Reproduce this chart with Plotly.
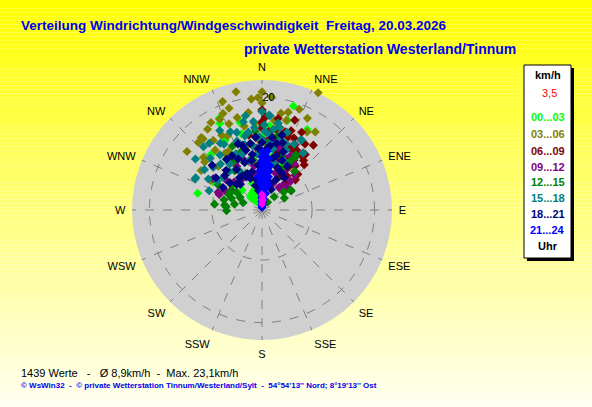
import plotly.graph_objects as go

# ---------------- data (direction deg, speed km/h) per time class ----------------
lime_dir = [16.8, 29.3, 334, 284.6, 335, 346, 332, 317, 16, 16.6,
            350, 355, 340, 5, 10, 20, 25, 345, 330, 0,
            330, 335, 325, 340, 320, 328, 335, 338, 322, 332, 318, 345,
            300, 310, 325, 345, 5, 12, 22, 340, 350, 0, 355, 10, 315, 305]
lime_spd = [19.3, 16.4, 17.1, 11.8, 18.0, 16.0, 14.0, 13.4, 16.6, 8.5,
            12, 10, 9, 11, 7, 12, 6, 7, 8, 13,
            3.5, 3.0, 2.5, 2.0, 3.2, 1.8, 1.5, 3.8, 2.2, 2.8, 2.8, 2.5,
            10, 7, 11, 14, 15, 10, 9, 5, 6, 4, 3, 3, 5, 6]

olive_dir = [347.6, 354.5, 338, 326, 308, 320, 303, 325, 25.6, 4.7, 20.3, 11.1, 15.2, 34.3,
             0, 26.3, 0, 329.7, 345, 339, 331.7, 320.4, 316.7,
             350, 355, 5, 340, 330, 10, 315, 345, 0, 8, 352, 335, 20, 357,
             335, 342, 348, 2, 15, 30, 12, 322, 312, 327, 337, 355, 5, 18, 340, 358, 0, 300, 310]
olive_spd = [21.5, 19.8, 18.5, 17.3, 16.9, 16.8, 12.9, 15.1, 23.1, 20.2, 19.1, 17.5, 16.5, 16.8,
             19, 18.2, 17.6, 18, 17, 16.4, 15.1, 16.4, 16.5,
             14, 15.5, 14, 13, 12, 13, 11, 11.5, 15, 16, 17.5, 14.5, 14, 12.5,
             17.8, 19, 15.2, 16.8, 18, 16, 15, 13.5, 14, 12, 10.5, 13, 11.5, 11, 20.5, 20, 21, 10.5, 13.3]

maroon_dir = [38.4, 37, 20.2, 0, 0, 16.8, 18.7, 30, 32.6, 41, 333.5, 16.4, 19.7, 29.5, 42,
              35.7, 0, 0, 25, 22, 12, 28, 45, 8, 35, 15, 5, 350, 345, 24, 40, 10, 3, 30,
              20, 14, 33, 27, 36, 43, 48, 22, 17, 27, 10, 5, 2, 32, 38, 25, 12]
maroon_spd = [14.7, 9.8, 15, 17.8, 15.4, 14.3, 8.1, 12.3, 10.5, 6.3, 10.1, 14.5, 13.8, 11.9, 6.4,
              9.8, 15.7, 14.5, 10, 12, 11, 8, 9, 13, 12, 9.5, 12.5, 13.5, 9, 14, 11.5, 16.5, 10, 7,
              17, 13, 14, 13, 7.5, 11, 8, 7, 10.5, 15.5, 14.5, 14, 16.5, 9, 12.5, 12, 9]

purple_dir = [35.8, 43.3, 37.3, 1, 292, 303, 302.7, 290, 38.4, 40.4, 350, 10, 20, 355,
              340, 25, 5, 330, 15, 45, 315, 0,
              30, 35, 28, 18, 8, 350, 340, 325, 310, 298, 48, 22, 3, 12, 355]
purple_spd = [12.5, 8.5, 5.0, 12.4, 8.4, 10.3, 6.5, 8.1, 5.1, 5.8, 8, 9, 7, 11,
              6, 10, 6, 9, 11.5, 7.2, 7, 9.5,
              8, 10, 11, 9.5, 7.5, 6.5, 9.5, 6.5, 8.5, 7.5, 6, 5, 10.5, 12.5, 13]

green_dir = [277, 268.9, 277.6, 55, 42.8, 35.5, 291, 291, 275, 32.3, 56.8, 31.5, 350, 340,
             10, 355, 320, 330, 5, 300, 20, 300, 15, 335,
             285, 295, 305, 282, 310, 325, 345, 2, 8, 25, 40, 50, 355, 335, 12, 30, 62, 300]
green_spd = [8.5, 6.3, 6.7, 6.2, 3.2, 1.7, 3.6, 5.8, 6.4, 11.1, 6.2, 11.5, 9, 11,
             8, 6, 6, 10, 12, 6.5, 10, 4.5, 5, 7,
             7, 6.5, 5.5, 5, 7, 8.5, 12, 10, 11.5, 8, 9, 5, 14, 12.5, 13.5, 10, 4.5, 9]

teal_dir = [294.8, 317.2, 307.4, 321.7, 354.7, 322.6, 311.2, 296, 354.4, 4.2, 10.6, 29, 35.8,
            4.9, 29.6, 1.6, 340, 345, 350, 335, 330, 325, 355, 0, 5, 10, 15, 345, 320, 338,
            358, 348, 310, 0, 8, 20,
            300, 305, 315, 328, 332, 342, 347, 352, 2, 7, 12, 18, 22, 26, 340, 330, 318, 303,
            290, 358, 3, 15, 25, 350]
teal_spd = [13.1, 15.3, 14.9, 15.1, 14.7, 12.3, 11.5, 13.1, 15.8, 16.9, 15.7, 14.2, 12.5,
            16.8, 14.3, 15.1, 13, 12, 14, 11, 13.5, 10, 10, 12.5, 13.5, 11, 13, 9, 9, 15,
            13, 16, 9, 17.5, 14.5, 12.5,
            11, 12.5, 13, 14, 16, 14.5, 13.5, 11.5, 14, 12, 15, 14.5, 11.5, 13, 10.5, 8, 11, 9.5,
            10, 8, 10, 8.5, 9.5, 17]

navy_dir = [312, 331, 312.8, 315.4, 12.4, 14.7, 0, 340, 345, 350, 355, 5, 10, 15, 20, 25,
            330, 335, 320, 350, 0, 5, 358, 3, 352, 345, 30, 340, 20, 8,
            300, 305, 318, 325, 335, 343, 348, 357, 2, 7, 12, 17, 22, 27, 35, 355, 338, 328,
            310, 0, 6, 15, 350, 340, 325, 18, 24, 345, 350]
navy_spd = [11.9, 11, 9.0, 6.4, 12.1, 13.8, 10.4, 9, 7, 10, 8, 9, 7, 10, 8, 6,
            7, 6.5, 6, 12, 12, 11, 6, 4.5, 4, 11, 9, 12.5, 11, 13,
            8, 10, 9.5, 11, 10, 12, 9, 11, 8, 11.5, 9.5, 12.5, 9.5, 7.5, 7, 13, 7, 8.5,
            7.5, 7, 5.5, 5, 5.5, 6, 7, 5, 4, 4.5, 3.5]

blue_dir = [0, 2, 3, 1, 2, 3, 1, 4, 2, 3, 1, 4, 2, 3, 5, 1, 3, 6, 8, 358, 357, 10, 12,
            6, 7, 357, 0, 5, 10, 8, 358,
            2, 4, 0, 5, 1, 4, 0, 6, 2, 4, 0, 7, 3, 1, 9, 11, 13, 354]
blue_spd = [0.5, 1, 1.5, 2, 2.5, 3, 3.5, 4, 4.5, 5, 5.5, 6, 6.5, 7, 7.5, 8, 8.5, 9, 4, 3, 5,
            5, 3, 2, 6, 7, 9.5, 10.5, 8, 2.8, 1.5,
            0.8, 1.2, 2.2, 3.2, 4.2, 5.2, 6.2, 6.8, 7.4, 8.2, 8.8, 9.2, 9.8, 10.3, 7, 6, 4.5, 6]

magenta_dir = [0, 2, 1, 3, 0, 4]
magenta_spd = [1, 1.5, 2, 2.5, 2.8, 1.8]

classes = [
    ("00...03", "#00FF00", lime_dir, lime_spd),
    ("03...06", "#808000", olive_dir, olive_spd),
    ("06...09", "#800000", maroon_dir, maroon_spd),
    ("09...12", "#800080", purple_dir, purple_spd),
    ("12...15", "#008000", green_dir, green_spd),
    ("15...18", "#008080", teal_dir, teal_spd),
    ("18...21", "#000080", navy_dir, navy_spd),
    ("21...24", "#0000FF", blue_dir, blue_spd),
]

compass = ["N", "NNE", "NE", "ENE", "E", "ESE", "SE", "SSE",
           "S", "SSW", "SW", "WSW", "W", "WNW", "NW", "NNW"]
compass_deg = [0, 22.5, 45, 67.5, 90, 112.5, 135, 157.5,
               180, 202.5, 225, 247.5, 270, 292.5, 315, 337.5]

mean_speed = 8.9
max_speed = 23.1
n_values = 1439
current_speed = "3,5"

W, H = 592, 407


def px(x):
    return x / W


def py(y):
    return 1 - y / H


fig = go.Figure()
for name, col, d, s in classes:
    fig.add_trace(go.Scatterpolar(
        r=s, theta=d, mode="markers", name=name, showlegend=False,
        marker=dict(symbol="diamond", size=7, color=col, line=dict(width=0)),
        hoverinfo="skip"))
fig.add_trace(go.Scatterpolar(
    r=magenta_spd, theta=magenta_dir, mode="markers", showlegend=False,
    marker=dict(symbol="diamond", size=6, color="#FF00FF", line=dict(width=0)),
    hoverinfo="skip"))

shapes = []
# background gradient (yellow -> pale)
nb = 100
for i in range(nb):
    t = i / (nb - 1)
    b = int(round(0 + 240 * t))
    shapes.append(dict(type="rect", xref="paper", yref="paper",
                       x0=0, x1=1, y0=1 - (i + 1) / nb, y1=1 - i / nb,
                       fillcolor=f"rgb(255,255,{b})", line=dict(width=0),
                       layer="below"))
# legend box with shadow
shapes.append(dict(type="rect", xref="paper", yref="paper",
                   x0=px(527), x1=px(574), y0=py(261), y1=py(68),
                   fillcolor="black", line=dict(width=0), layer="above"))
shapes.append(dict(type="rect", xref="paper", yref="paper",
                   x0=px(524), x1=px(571), y0=py(258), y1=py(65),
                   fillcolor="white", line=dict(color="black", width=1), layer="above"))

ann = []
ann.append(dict(text="<b>Verteilung Windrichtung/Windgeschwindigkeit  Freitag, 20.03.2026</b>",
                x=px(19), y=py(25), xanchor="left", yanchor="middle",
                font=dict(family="Liberation Sans, Arial, sans-serif",
                          size=13.5, color="#0000EE")))
ann.append(dict(text="<b>private Wetterstation Westerland/Tinnum</b>",
                x=px(242), y=py(49), xanchor="left", yanchor="middle",
                font=dict(family="Liberation Sans, Arial, sans-serif",
                          size=14, color="#0000EE")))
ann.append(dict(text=f"{n_values} Werte   -   Ø {str(mean_speed).replace('.', ',')}km/h  -  Max. {str(max_speed).replace('.', ',')}km/h",
                x=px(19), y=py(373), xanchor="left", yanchor="middle",
                font=dict(family="Liberation Sans, Arial, sans-serif",
                          size=11, color="black")))
ann.append(dict(text="<b>© WsWin32  -  © private Wetterstation Tinnum/Westerland/Sylt  -  54°54'13'' Nord; 8°19'13'' Ost</b>",
                x=px(19), y=py(385), xanchor="left", yanchor="middle",
                font=dict(family="Liberation Sans, Arial, sans-serif",
                          size=8, color="#0000EE")))
# legend texts
leg_font = "Liberation Sans, Arial, sans-serif"
ann.append(dict(text="<b>km/h</b>", x=px(547.5), y=py(75), xanchor="center", yanchor="middle",
                font=dict(family=leg_font, size=11, color="black")))
ann.append(dict(text=current_speed, x=px(549), y=py(93), xanchor="center", yanchor="middle",
                font=dict(family=leg_font, size=11, color="#FF0000")))
leg_y = [117, 134, 151, 167, 182, 198, 214, 230]
for (name, col, d, s), yy in zip(classes, leg_y):
    ann.append(dict(text=f"<b>{name}</b>", x=px(547.5), y=py(yy), xanchor="center",
                    yanchor="middle", font=dict(family=leg_font, size=11, color=col)))
ann.append(dict(text="<b>Uhr</b>", x=px(547.5), y=py(246), xanchor="center", yanchor="middle",
                font=dict(family=leg_font, size=11, color="black")))
for a in ann:
    a.update(xref="paper", yref="paper", showarrow=False)

cx, cy, R = 262, 210, 130
fig.update_layout(
    width=W, height=H,
    margin=dict(l=0, r=0, t=0, b=0),
    paper_bgcolor="rgba(0,0,0,0)",
    plot_bgcolor="rgba(0,0,0,0)",
    showlegend=False,
    shapes=shapes,
    annotations=ann,
    polar=dict(
        domain=dict(x=[px(cx - R), px(cx + R)], y=[py(cy + R), py(cy - R)]),
        bgcolor="#D0D0D0",
        angularaxis=dict(
            direction="clockwise", rotation=90,
            tickmode="array", tickvals=compass_deg, ticktext=compass,
            ticks="outside", ticklen=4, tickcolor="rgba(0,0,0,0)", showline=False,
            gridcolor="#808080", griddash="dash", gridwidth=1,
            tickfont=dict(family="Liberation Sans, Arial, sans-serif", size=11, color="black")),
        radialaxis=dict(
            range=[0, max_speed], angle=90, tickangle=90,
            tickmode="array", tickvals=[mean_speed, 20], ticktext=["", "20"],
            ticks="", showline=False,
            gridcolor="#808080", griddash="dash", gridwidth=1,
            tickfont=dict(family="Liberation Sans, Arial, sans-serif", size=11, color="black")),
    ),
)

fig.write_html("out.html", config={"displayModeBar": False},
               post_script="document.body.style.margin='0';document.body.style.overflow='hidden';")
